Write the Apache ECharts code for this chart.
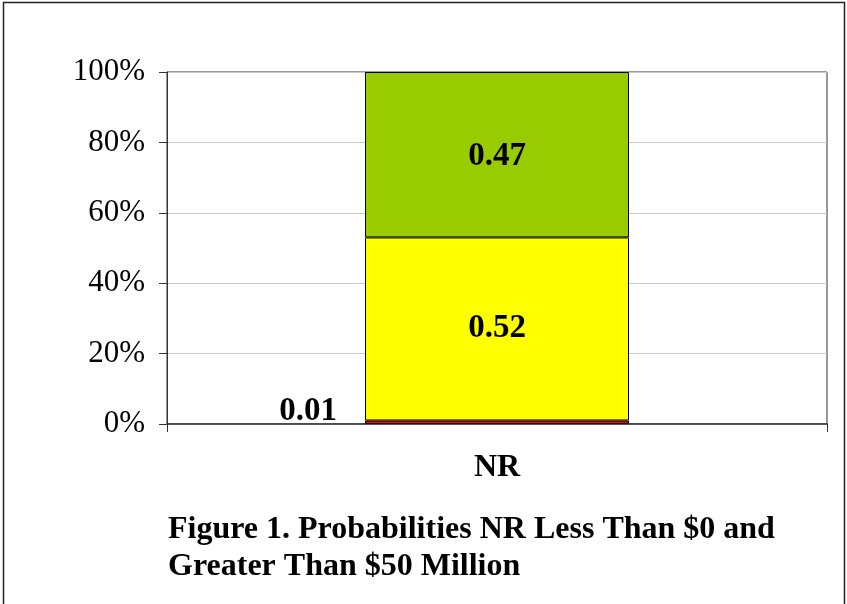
<!DOCTYPE html>
<html>
<head>
<meta charset="utf-8">
<script src="https://cdn.jsdelivr.net/npm/echarts@6/dist/echarts.min.js"></script>
<style>
html,body{margin:0;padding:0;background:#fff;}
#c{width:847px;height:604px;}
</style>
</head>
<body>
<div id="c"></div>
<script>
var categories = ['NR'];
var lessThanZero = [0.01];
var between = [0.52];
var greaterThan50 = [0.47];
var yTicks = [0, 0.2, 0.4, 0.6, 0.8, 1.0];
var titleText = 'Figure 1. Probabilities NR Less Than $0 and\nGreater Than $50 Million';

var chart = echarts.init(document.getElementById('c'), null, {renderer: 'canvas'});
var font = 'Liberation Serif';
var labelStyle = {show: true, position: 'inside', color: '#000', fontFamily: font, fontWeight: 'bold', fontSize: 33,
  formatter: function (p) { return p.value.toFixed(2); }};
chart.setOption({
  animation: false,
  backgroundColor: '#fff',
  title: {
    text: titleText, left: 163, top: 506,
    textStyle: {fontFamily: font, fontWeight: 'bold', fontSize: 32, color: '#000', lineHeight: 37}
  },
  graphic: [{type: 'rect', shape: {x: 3.5, y: 2.5, width: 841, height: 640}, style: {fill: 'none', stroke: '#222', lineWidth: 1.5}, silent: true}],
  grid: {left: 167, right: 20, top: 72, bottom: 180, show: true, borderColor: '#333', borderWidth: 1, backgroundColor: 'transparent'},
  xAxis: {
    type: 'category', data: categories,
    axisLine: {lineStyle: {color: '#333', width: 1.5}},
    axisTick: {show: true, length: 8, lineStyle: {color: '#333'}},
    axisLabel: {fontFamily: font, fontWeight: 'bold', fontSize: 32, color: '#000', margin: 28}
  },
  yAxis: {
    type: 'value', min: 0, max: 1, interval: 0.2,
    axisLine: {show: true, lineStyle: {color: '#333'}},
    axisTick: {show: true, length: 8, lineStyle: {color: '#333'}},
    splitLine: {lineStyle: {color: '#c8c8c8'}},
    axisLabel: {fontFamily: font, fontSize: 31, color: '#000', margin: 22,
      formatter: function (v) { return Math.round(v * 100) + '%'; }}
  },
  series: [
    {name: 'Less than $0', type: 'bar', stack: 's', data: lessThanZero, barWidth: '40%',
      itemStyle: {color: '#FF0000', borderColor: '#000', borderWidth: 1},
      label: Object.assign({}, labelStyle, {position: 'left', distance: 28, offset: [0, -11]})},
    {name: 'Between', type: 'bar', stack: 's', data: between, barWidth: '40%',
      itemStyle: {color: '#FFFF00', borderColor: '#000', borderWidth: 1},
      label: labelStyle},
    {name: 'Greater than $50M', type: 'bar', stack: 's', data: greaterThan50, barWidth: '40%',
      itemStyle: {color: '#99CC00', borderColor: '#000', borderWidth: 1},
      label: Object.assign({}, labelStyle, {position: 'insideTop', distance: 68})}
  ]
});
</script>
</body>
</html>
